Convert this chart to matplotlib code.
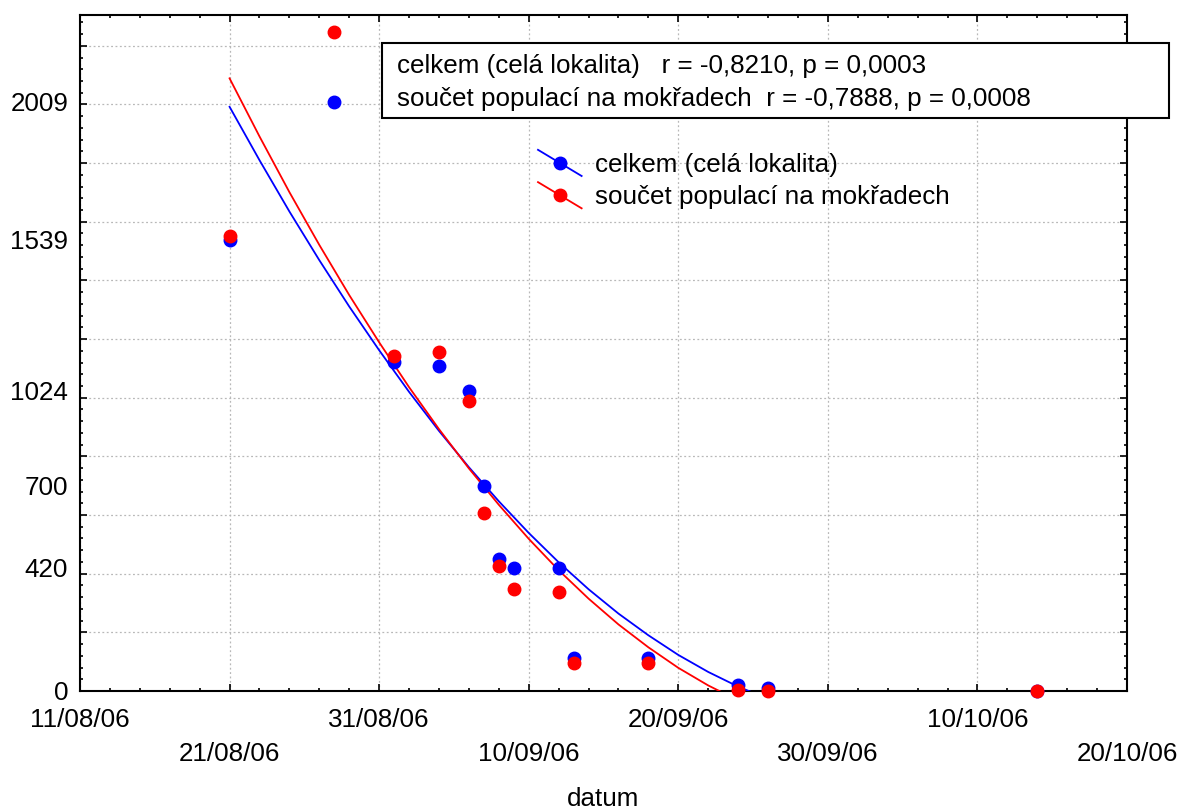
import matplotlib
matplotlib.use('Agg')
import datetime as dt
import numpy as np
import matplotlib.pyplot as plt
import matplotlib.dates as mdates
from matplotlib.ticker import FixedLocator, MultipleLocator, FuncFormatter, NullFormatter, NullLocator
from matplotlib.legend_handler import HandlerLine2D
from matplotlib.lines import Line2D
from matplotlib.patches import Rectangle

plt.rcParams['font.family'] = ['Liberation Sans', 'DejaVu Sans']

# ---------------- data ----------------
dates = ['2006-08-21', '2006-08-28', '2006-09-01', '2006-09-04', '2006-09-06',
         '2006-09-07', '2006-09-08', '2006-09-09', '2006-09-12', '2006-09-13',
         '2006-09-18', '2006-09-24', '2006-09-26', '2006-10-14']
celkem = [1539, 2009, 1123, 1109, 1024, 700, 450, 420, 420, 112, 112, 20, 9, 0]
mokrady = [1552, 2248, 1143, 1157, 988, 606, 427, 347, 339, 94, 94, 2, 1, 0]

# fitted curves
fit_dates_celkem = ['2006-08-21', '2006-08-23', '2006-08-25', '2006-08-27', '2006-08-29',
                    '2006-08-31', '2006-09-02', '2006-09-04', '2006-09-06', '2006-09-08',
                    '2006-09-10', '2006-09-12', '2006-09-14', '2006-09-16', '2006-09-18',
                    '2006-09-20', '2006-09-22', '2006-09-24', '2006-09-26']
fit_celkem = [1992, 1810, 1635, 1469, 1311, 1162, 1020, 887, 763, 647,
              539, 439, 347, 264, 190, 123, 65, 15, -27]
fit_dates_mokrady = ['2006-08-21', '2006-08-23', '2006-08-25', '2006-08-27', '2006-08-29',
                     '2006-08-31', '2006-09-02', '2006-09-04', '2006-09-06', '2006-09-08',
                     '2006-09-10', '2006-09-12', '2006-09-14', '2006-09-16', '2006-09-18',
                     '2006-09-20', '2006-09-22', '2006-09-24']
fit_mokrady = [2089, 1891, 1701, 1521, 1350, 1189, 1036, 893, 759, 635,
               519, 412, 315, 227, 149, 79, 19, -32]

ytick_values = [0, 420, 700, 1024, 1539, 2009]
series_labels = ['celkem (celá lokalita)', 'součet populací na mokřadech']
stats_lines = ['celkem (celá lokalita)   r = -0,8210, p = 0,0003',
               'součet populací na mokřadech  r = -0,7888, p = 0,0008']
x_label = 'datum'
x_start, x_end = '2006-08-11', '2006-10-20'

FS = 18.7

# ---------------- helpers ----------------
def to_num(lst):
    return mdates.date2num([dt.datetime.strptime(s, '%Y-%m-%d') for s in lst])


class SlantHandler(HandlerLine2D):
    def create_artists(self, legend, orig_handle, xdescent, ydescent,
                       width, height, fontsize, trans):
        x0 = -xdescent
        x1 = -xdescent + width
        yc = height / 2.0 - ydescent
        dy = 0.30 * width
        c = orig_handle.get_color()
        ln = Line2D([x0, x1], [yc + dy, yc - dy], color=c, lw=1.3)
        mk = Line2D([(x0 + x1) / 2.0], [yc], marker='o', color=c,
                    markersize=orig_handle.get_markersize(), linestyle='none')
        ln.set_transform(trans)
        mk.set_transform(trans)
        return [ln, mk]


W, H = 1181, 809
fig = plt.figure(figsize=(W / 100, H / 100), dpi=100)
ax = fig.add_axes([80 / W, 1 - 691 / H, (1127 - 80) / W, (691 - 15) / H])

blue = '#0000ff'
red = '#ff0000'

ax.plot(to_num(fit_dates_celkem), fit_celkem, color=blue, lw=1.3, zorder=3)
ax.plot(to_num(fit_dates_mokrady), fit_mokrady, color=red, lw=1.3, zorder=3)
pb, = ax.plot(to_num(dates), celkem, 'o', color=blue, ms=9, linestyle='none', zorder=4, clip_on=False)
pr, = ax.plot(to_num(dates), mokrady, 'o', color=red, ms=9, linestyle='none', zorder=5, clip_on=False)

xs = to_num([x_start, x_end])
ax.set_xlim(xs[0], xs[1])
ax.set_ylim(0, 2305)

# x ticks
major_x = xs[0] + np.arange(0, 71, 10)
minor_x = xs[0] + np.arange(0, 71, 2)
ax.xaxis.set_major_locator(FixedLocator(major_x))
ax.xaxis.set_minor_locator(FixedLocator(minor_x))


def xfmt(x, pos=None):
    i = int(round((x - xs[0]) / 10.0))
    s = mdates.num2date(x).strftime('%d/%m/%y')
    return s if i % 2 == 0 else '\n' + s


ax.xaxis.set_major_formatter(FuncFormatter(xfmt))

# y ticks (grid / marks)
ax.yaxis.set_major_locator(MultipleLocator(200))
ax.yaxis.set_minor_locator(MultipleLocator(40))
ax.yaxis.set_major_formatter(NullFormatter())

ax.tick_params(which='both', direction='in', top=True, right=True, width=1.2)
ax.tick_params(which='major', length=5)
ax.tick_params(which='minor', length=2.5)
ax.tick_params(axis='x', which='major', labelsize=FS, pad=12.5)
ax.tick_params(axis='y', labelleft=False)

for t in ax.xaxis.get_major_ticks():
    t.label1.set_linespacing(1.52)

for s in ax.spines.values():
    s.set_linewidth(1.5)

ax.grid(True, which='major', color='#b8b8b8', linestyle=(0, (1.5, 2.0)), linewidth=0.9)
ax.set_axisbelow(True)

# y labels at their values
secax = ax.secondary_yaxis('left')
secax.set_yticks(ytick_values)
secax.set_yticklabels([str(v) for v in ytick_values])
secax.yaxis.set_minor_locator(NullLocator())
secax.tick_params(axis='y', which='both', length=0, pad=8.5, labelsize=FS)
secax.spines['left'].set_visible(False)

ax.set_xlabel(x_label, fontsize=FS)
ax.xaxis.set_label_coords(0.5, (691 - 787) / 676)

# legend with slanted handles
leg = ax.legend([pb, pr], series_labels,
                handler_map={pb: SlantHandler(), pr: SlantHandler()},
                loc='upper left', bbox_to_anchor=(538 / W, 1 - 153 / H),
                bbox_transform=fig.transFigure, frameon=False, fontsize=FS,
                handlelength=1.68, handletextpad=0.52, labelspacing=0.32,
                borderpad=0, borderaxespad=0)

# statistics box
box = Rectangle((381.7 / W, 1 - 118.3 / H), (1169 - 381.7) / W, (118.3 - 42.7) / H,
                transform=fig.transFigure, facecolor='white', edgecolor='black',
                lw=1.5, zorder=10)
fig.add_artist(box)
fig.text(397 / W, 1 - 73.3 / H, stats_lines[0], fontsize=FS, va='baseline', zorder=11)
fig.text(397 / W, 1 - 106.3 / H, stats_lines[1], fontsize=FS, va='baseline', zorder=11)

fig.savefig('out.png', dpi=100)
